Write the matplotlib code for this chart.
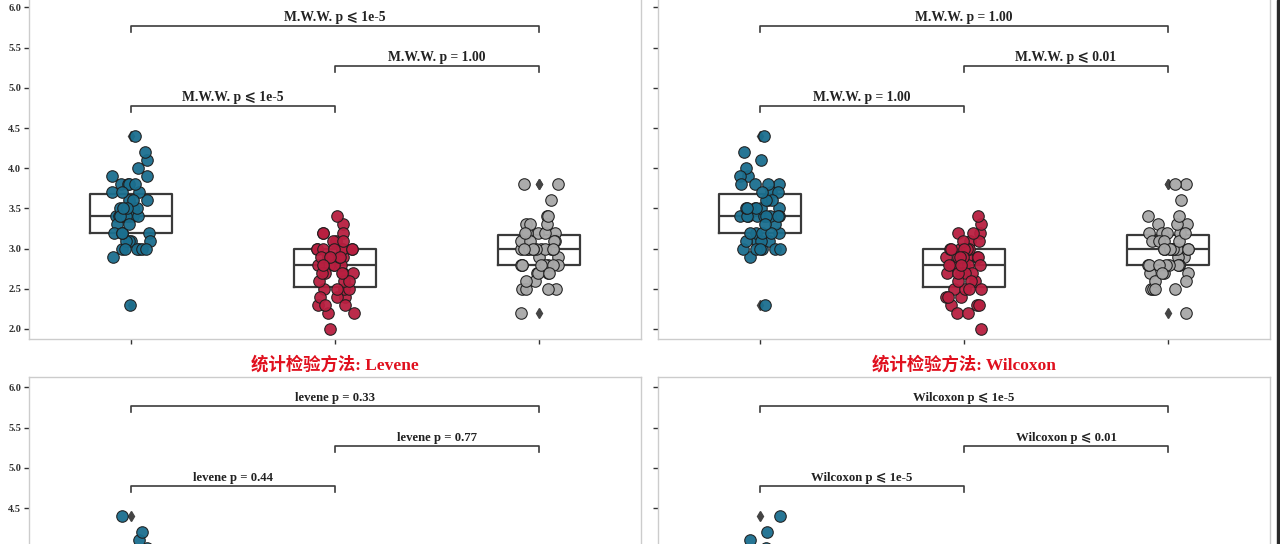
import numpy as np
import matplotlib
matplotlib.use("Agg")
import matplotlib.pyplot as plt
from matplotlib.patches import Rectangle
import seaborn as sns

# iris sepal width
setosa = [3.5, 3.0, 3.2, 3.1, 3.6, 3.9, 3.4, 3.4, 2.9, 3.1, 3.7, 3.4, 3.0, 3.0, 4.0, 4.4, 3.9,
          3.5, 3.8, 3.8, 3.4, 3.7, 3.6, 3.3, 3.4, 3.0, 3.4, 3.5, 3.4, 3.2, 3.1, 3.4, 4.1, 4.2,
          3.1, 3.2, 3.5, 3.6, 3.0, 3.4, 3.5, 2.3, 3.2, 3.5, 3.8, 3.0, 3.8, 3.2, 3.7, 3.3]
versicolor = [3.2, 3.2, 3.1, 2.3, 2.8, 2.8, 3.3, 2.4, 2.9, 2.7, 2.0, 3.0, 2.2, 2.9, 2.9, 3.1,
              3.0, 2.7, 2.2, 2.5, 3.2, 2.8, 2.5, 2.8, 2.9, 3.0, 2.8, 3.0, 2.9, 2.6, 2.4, 2.4,
              2.7, 2.7, 3.0, 3.4, 3.1, 2.3, 3.0, 2.5, 2.6, 3.0, 2.6, 2.3, 2.7, 3.0, 2.9, 2.9,
              2.5, 2.8]
virginica = [3.3, 2.7, 3.0, 2.9, 3.0, 3.0, 2.5, 2.9, 2.5, 3.6, 3.2, 2.7, 3.0, 2.5, 2.8, 3.2,
             3.0, 3.8, 2.6, 2.2, 3.2, 2.8, 2.8, 2.7, 3.3, 3.2, 2.8, 3.0, 2.8, 3.0, 2.8, 3.8,
             2.8, 2.8, 2.6, 3.0, 3.4, 3.1, 3.0, 3.1, 3.1, 3.1, 2.7, 3.2, 3.3, 3.0, 2.5, 3.0,
             3.4, 3.0]
groups = [setosa, versicolor, virginica]
colors = ["#1b6f8f", "#b81f40", "#a8a8a8"]

pairs = [(0, 1), (1, 2), (0, 2)]
labels_tl = ["M.W.W. p ⩽ 1e-5", "M.W.W. p = 1.00", "M.W.W. p ⩽ 1e-5"]
labels_tr = ["M.W.W. p = 1.00", "M.W.W. p ⩽ 0.01", "M.W.W. p = 1.00"]
labels_bl = ["levene p = 0.44", "levene p = 0.77", "levene p = 0.33"]
labels_br = ["Wilcoxon p ⩽ 1e-5", "Wilcoxon p ⩽ 0.01", "Wilcoxon p ⩽ 1e-5"]

titles = [None, None, "统计检验方法: Levene", "统计检验方法: Wilcoxon"]
yticks = [2.0, 2.5, 3.0, 3.5, 4.0, 4.5, 5.0, 5.5, 6.0]

SERIF = ["Liberation Serif", "DejaVu Serif", "DejaVu Sans"]
TITLE_FONT = ["Liberation Serif", "Noto Sans CJK SC", "DejaVu Sans"]

fig = plt.figure(figsize=(12.8, 5.44), dpi=100)

W, H = 1280.0, 544.0
ax_w, ax_h = 612, 342
# (left px, top px) of each panel
panel_pos = [(29, -3), (658, -3), (29, 377), (658, 377)]
panel_labels = [labels_tl, labels_tr, labels_bl, labels_br]
text_size = [9.8, 9.8, 9.2, 9.2]

bracket_y = [4.70, 5.20, 5.70]
bracket_h = 0.07

for i, (px, py) in enumerate(panel_pos):
    ax = fig.add_axes([px / W, 1 - (py + ax_h) / H, ax_w / W, ax_h / H])
    np.random.seed(3 + i)

    ax.boxplot(groups, positions=[0, 1, 2], widths=0.4, whis=1.5,
               showcaps=False,
               whiskerprops=dict(linewidth=0),
               boxprops=dict(color="#3a3a3a", linewidth=1.6),
               medianprops=dict(color="#3a3a3a", linewidth=1.6),
               flierprops=dict(marker="d", markerfacecolor="#444444",
                               markeredgecolor="#444444", markersize=5),
               zorder=1)

    for k, g in enumerate(groups):
        sns.stripplot(x=np.full(len(g), k), y=g, native_scale=True, ax=ax,
                      color=colors[k], size=8.3, edgecolor="#1e1e1e",
                      linewidth=0.8, jitter=0.1, alpha=0.95, zorder=3)

    for (a, b), txt, y in zip(pairs, panel_labels[i], bracket_y):
        ax.plot([a, a, b, b], [y, y + bracket_h, y + bracket_h, y],
                color="#3c3c3c", lw=1.2, zorder=2)
        ax.text((a + b) / 2, y + bracket_h + 0.03, txt, ha="center", va="bottom",
                fontsize=text_size[i], fontweight="bold", family=SERIF, color="#222222")

    ax.set_xlim(-0.5, 2.5)
    ax.set_ylim(1.875, 6.13)
    ax.set_xticks([0, 1, 2])
    ax.set_xticklabels([])
    ax.set_yticks(yticks)
    if px < 100:
        # lower panels run past the bottom edge: only label the visible ticks
        lo = 2.0 if py < 0 else 4.5
        ax.set_yticklabels(["%.1f" % v if v >= lo else "" for v in yticks],
                           fontsize=7.5, fontweight="bold", family=SERIF, color="#333333")
    else:
        ax.set_yticklabels([])
    ax.set_xlabel("")
    ax.set_ylabel("")
    ax.tick_params(direction="out", length=3.5, width=1, color="#333333", pad=2)
    for s in ax.spines.values():
        s.set_color("#cccccc")
        s.set_linewidth(1)

    if titles[i]:
        ax.set_title(titles[i], color="#e0101e", fontsize=12.5, fontweight="bold",
                     family=TITLE_FONT, pad=5)

# dark strip at right edge of the screenshot
fig.add_artist(Rectangle((1277 / W, 0), 3 / W, 1, transform=fig.transFigure,
                         color="#2a2a2a", zorder=10))

fig.savefig("out.png", dpi=100)
